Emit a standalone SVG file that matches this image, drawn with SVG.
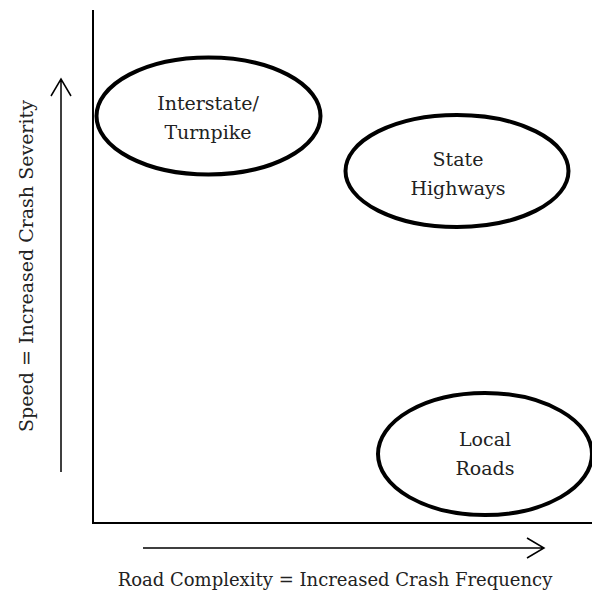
<svg xmlns="http://www.w3.org/2000/svg" width="592" height="593" viewBox="0 0 592 593">
<style>
text{font-family:"DejaVu Serif","Liberation Serif",serif;font-size:19px;fill:#222;text-anchor:middle}
.node ellipse{fill:none;stroke:#000;stroke-width:4}
.axis{stroke:#000;stroke-width:2;fill:none}
.arr{stroke:#000;stroke-width:1.5;fill:none}
</style>
<rect width="592" height="593" fill="#fff"/>
<g id="connectors">
<path class="axis" d="M93,10 V523 H592"/>
<path class="arr" d="M61,472 V79 M51,96 L61,79 L71,96"/>
<path class="arr" d="M143,548 H544 M527,538 L544,548 L527,558"/>
</g>
<g id="interstate" class="node">
<ellipse cx="208.5" cy="116" rx="112" ry="58.5"/>
<text x="208" y="110">Interstate/</text>
<text x="208" y="139">Turnpike</text>
</g>
<g id="state" class="node">
<ellipse cx="457" cy="171" rx="111.5" ry="56"/>
<text x="458" y="166">State</text>
<text x="458" y="195">Highways</text>
</g>
<g id="local" class="node">
<ellipse cx="485" cy="454" rx="107" ry="61"/>
<text x="485" y="446">Local</text>
<text x="485" y="475">Roads</text>
</g>
<text x="335" y="586" style="font-size:18px">Road Complexity = Increased Crash Frequency</text>
<text transform="translate(33,266) rotate(-90)">Speed = Increased Crash Severity</text>
</svg>
